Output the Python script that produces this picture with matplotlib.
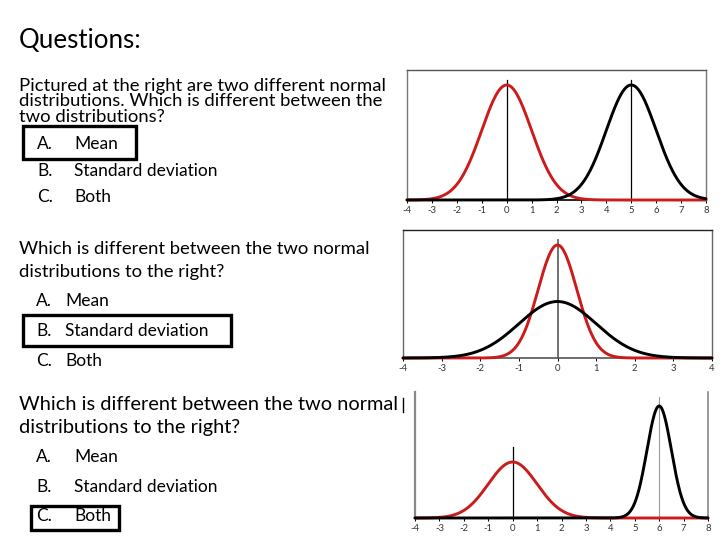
import numpy as np
import matplotlib
matplotlib.use("Agg")
import matplotlib.pyplot as plt
from matplotlib.patches import Rectangle

plt.rcParams['font.family'] = ['Lato', 'DejaVu Sans']

# ---- data ----
title = "Questions:"
q1_lines = ["Pictured at the right are two different normal",
            "distributions. Which is different between the",
            "two distributions?"]
q2_lines = ["Which is different between the two normal",
            "distributions to the right?"]
q3_lines = ["Which is different between the two normal",
            "distributions to the right?"]
option_letters = ["A.", "B.", "C."]
option_texts = ["Mean", "Standard deviation", "Both"]

p1_means = [0, 5]
p1_sds = [1, 1]
p1_ticks = list(range(-4, 9))

p2_means = [0, 0]
p2_sds = [0.5, 1]
p2_ticks = list(range(-4, 5))

p3_means = [0, 6]
p3_sds = [1, 0.5]
p3_ticks = list(range(-4, 9))

RED = '#cc1b1b'
W, H = 720, 540


def pdf(x, m, s):
    return np.exp(-0.5 * ((x - m) / s) ** 2) / (s * np.sqrt(2 * np.pi))


fig = plt.figure(figsize=(7.2, 5.4), dpi=100)
bg = fig.add_axes([0, 0, 1, 1])
bg.set_xlim(0, W)
bg.set_ylim(H, 0)
bg.axis('off')

Q1 = 13.3
Q2 = 13.3
Q3 = 14.4
OPT = 12.5
bg.text(19, 48, title, fontsize=18.6, va='baseline', ha='left', color='black')

for line, yb in zip(q1_lines, [91, 106.5, 122]):
    bg.text(19, yb, line, fontsize=Q1, va='baseline', ha='left')
for lt, ot, yb in zip(option_letters, option_texts, [149, 176, 202]):
    bg.text(37, yb, lt, fontsize=OPT, va='baseline')
    bg.text(74, yb, ot, fontsize=OPT, va='baseline')
bg.add_patch(Rectangle((22.5, 125.5), 113.5, 33.5, fill=False, lw=2.4, ec='black'))

for line, yb in zip(q2_lines, [254, 276.5]):
    bg.text(19, yb, line, fontsize=Q2, va='baseline', ha='left')
for lt, ot, yb in zip(option_letters, option_texts, [306, 336, 366]):
    bg.text(36, yb, lt, fontsize=OPT, va='baseline')
    bg.text(65, yb, ot, fontsize=OPT, va='baseline')
bg.add_patch(Rectangle((23, 314.5), 207.5, 31, fill=False, lw=2.4, ec='black'))

for line, yb in zip(q3_lines, [410, 432.5]):
    bg.text(19, yb, line, fontsize=Q3, va='baseline', ha='left')
for lt, ot, yb in zip(option_letters, option_texts, [462, 491.5, 521]):
    bg.text(36, yb, lt, fontsize=OPT, va='baseline')
    bg.text(74, yb, ot, fontsize=OPT, va='baseline')
bg.add_patch(Rectangle((31, 505.5), 88, 24, fill=False, lw=2.4, ec='black'))
bg.plot([403, 403], [398, 412], color='black', lw=1)


def make_panel(x0, x1, ytop, ybot, xlim, ticks, means, sds, colors,
               peak_px, peak_val, vlines, spine_cfg, bottom_color):
    ax = fig.add_axes([x0 / W, 1 - ybot / H, (x1 - x0) / W, (ybot - ytop) / H])
    ax.patch.set_alpha(0)
    top_val = peak_val * (ybot - ytop) / (ybot - peak_px)
    ax.set_xlim(*xlim)
    ax.set_ylim(0, top_val)
    xs = np.linspace(xlim[0], xlim[1], 600)
    for (vx, vtop_px, vc, vlw) in vlines:
        vt = peak_val * (ybot - vtop_px) / (ybot - peak_px)
        ax.plot([vx, vx], [0, vt], color=vc, lw=vlw, zorder=2, clip_on=False)
    for m, s, c in zip(means, sds, colors):
        ax.plot(xs, pdf(xs, m, s), color=c, lw=2.1, zorder=3,
                solid_capstyle='round', clip_on=False)
    ax.set_xticks(ticks)
    ax.set_xticklabels([str(t) for t in ticks])
    ax.set_yticks([])
    ax.tick_params(axis='x', direction='out', length=2.5, width=0.7,
                   pad=1.5, labelsize=6.8, labelcolor='#333333', color='black')
    for side in ['left', 'right', 'top']:
        col, lw = spine_cfg.get(side, (None, 0))
        if col is None:
            ax.spines[side].set_visible(False)
        else:
            ax.spines[side].set_color(col)
            ax.spines[side].set_linewidth(lw)
    ax.spines['bottom'].set_color(bottom_color)
    ax.spines['bottom'].set_linewidth(1.2)
    return ax


make_panel(407, 706, 70, 200, (-4, 8), p1_ticks, p1_means, p1_sds,
           [RED, 'black'], 85, pdf(0, 0, 1),
           [(0, 80, 'black', 0.9), (5, 80, 'black', 0.9)],
           {'left': ('#777777', 1.0), 'right': ('#777777', 1.0), 'top': ('#555555', 1.0)},
           'black')

make_panel(403, 712, 230, 358, (-4, 4), p2_ticks, p2_means, p2_sds,
           [RED, 'black'], 245, pdf(0, 0, 0.5),
           [(0, 240, '#666666', 1.3)],
           {'left': ('#666666', 1.0), 'right': ('#666666', 1.0), 'top': ('#222222', 1.0)},
           '#555555')

make_panel(415, 708, 392, 518, (-4, 8), p3_ticks, p3_means, p3_sds,
           [RED, 'black'], 406, pdf(0, 0, 0.5),
           [(0, 447, 'black', 0.9), (6, 397, '#999999', 0.8)],
           {'left': ('#888888', 1.6), 'right': ('#888888', 1.2)},
           '#7a1c1c')

fig.savefig('out.png', dpi=100)
